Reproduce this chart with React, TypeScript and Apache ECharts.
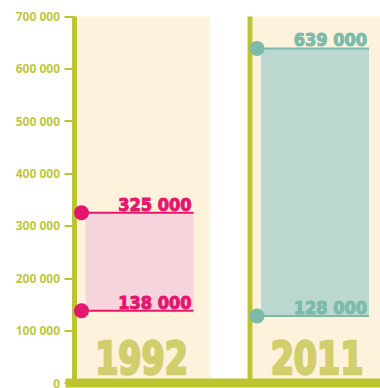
import React, { useEffect, useRef } from "react";
import * as echarts from "echarts";

const years = ["1992", "2011"];
const highValues = [325000, 639000];
const lowValues = [138000, 128000];
const axisMax = 700000;
const axisStep = 100000;

const OLIVE = "#bdc431";
const LABEL = "#c0c73e";
const CREAM = "#fef2dc";
const YEAR = "#d1cf6d";
const MAIN = ["#e4166f", "#7cbba9"];
const FILL = ["#f6d4dc", "#bad8cf"];
const HEAVY = '"DejaVu Sans Condensed", "DejaVu Sans", sans-serif';

const fmt = (v: number) => String(v).replace(/\B(?=(\d{3})+(?!\d))/g, " ");

export default function App() {
  const ref = useRef<HTMLDivElement>(null);
  useEffect(() => {
    if (!ref.current) return;
    const chart = echarts.init(ref.current, null, { renderer: "svg" });
    const data = years.map((y, i) => [i, highValues[i], lowValues[i]]);
    chart.setOption({
      animation: false,
      grid: { left: 74.5, top: 16.5, bottom: 5, right: -45.5, outerBoundsMode: "none", containLabel: false },
      xAxis: {
        type: "category",
        data: years,
        show: false,
      },
      yAxis: {
        type: "value",
        min: 0,
        max: axisMax,
        interval: axisStep,
        axisLine: { show: false },
        axisTick: { show: true, length: 10, lineStyle: { color: OLIVE, width: 2 } },
        splitLine: { show: false },
        axisLabel: {
          margin: 14.5,
          color: LABEL,
          fontFamily: '"Noto Sans", "DejaVu Sans", sans-serif',
          fontWeight: "bold",
          fontSize: 12,
          formatter: (v: number) => fmt(v),
        },
      },
      series: [
        {
          type: "custom",
          clip: false,
          data,
          encode: { x: 0, y: [1, 2] },
          renderItem: (params: any, api: any) => {
            const i = api.value(0);
            const hi = api.value(1);
            const lo = api.value(2);
            const base = api.coord([i, 0]);
            const band = api.size([1, 0])[0];
            const lineX = base[0] - band / 2;
            const yBase = base[1];
            const yTop = api.coord([i, axisMax])[1];
            const yHi = api.coord([i, hi])[1];
            const yLo = api.coord([i, lo])[1];
            const main = MAIN[i % MAIN.length];
            const fill = FILL[i % FILL.length];
            const lineEnd = lineX + 119;
            const children: any[] = [
              {
                type: "rect",
                shape: { x: lineX + 2.5, y: yTop, width: 133, height: yBase - yTop },
                style: { fill: CREAM },
              },
              {
                type: "rect",
                shape: { x: lineX + 11, y: yHi, width: lineEnd - lineX - 11, height: yLo - yHi },
                style: { fill },
              },
              {
                type: "text",
                x: lineX + 67,
                y: yBase - 24,
                scaleX: 0.84,
                style: {
                  text: years[i],
                  x: 0,
                  y: 0,
                  align: "center",
                  verticalAlign: "middle",
                  fontSize: 44,
                  fontWeight: 900,
                  fontFamily: HEAVY,
                  fill: YEAR,
                  stroke: YEAR,
                  lineWidth: 2.5,
                },
              },
              {
                type: "rect",
                shape: { x: lineX - 2.5, y: yTop, width: 5, height: yBase - yTop },
                style: { fill: OLIVE },
              },
            ];
            [
              [yHi, hi],
              [yLo, lo],
            ].forEach(([yy, v]) => {
              children.push({
                type: "line",
                shape: { x1: lineX + 7, y1: yy, x2: lineEnd, y2: yy },
                style: { stroke: main, lineWidth: 2 },
              });
              children.push({
                type: "circle",
                shape: { cx: lineX + 7, cy: yy, r: 7.5 },
                style: { fill: main },
              });
              children.push({
                type: "text",
                style: {
                  text: fmt(v),
                  x: lineEnd - 2,
                  y: yy - 8.5,
                  align: "right",
                  verticalAlign: "middle",
                  fontSize: 18,
                  fontWeight: 900,
                  fontFamily: HEAVY,
                  fill: main,
                  stroke: main,
                  lineWidth: 1,
                },
              });
            });
            if (params.dataIndex === 0) {
              children.push({
                type: "rect",
                z2: 100,
                shape: { x: lineX - 9, y: yBase - 4.5, width: band * 2 + 20, height: 9 },
                style: { fill: OLIVE },
              });
            }
            return { type: "group", children };
          },
        },
      ],
    });
    return () => chart.dispose();
  }, []);
  return (
    <div
      ref={ref}
      style={{ position: "absolute", left: 0, top: 0, width: 380, height: 388, background: "#fff" }}
    />
  );
}
